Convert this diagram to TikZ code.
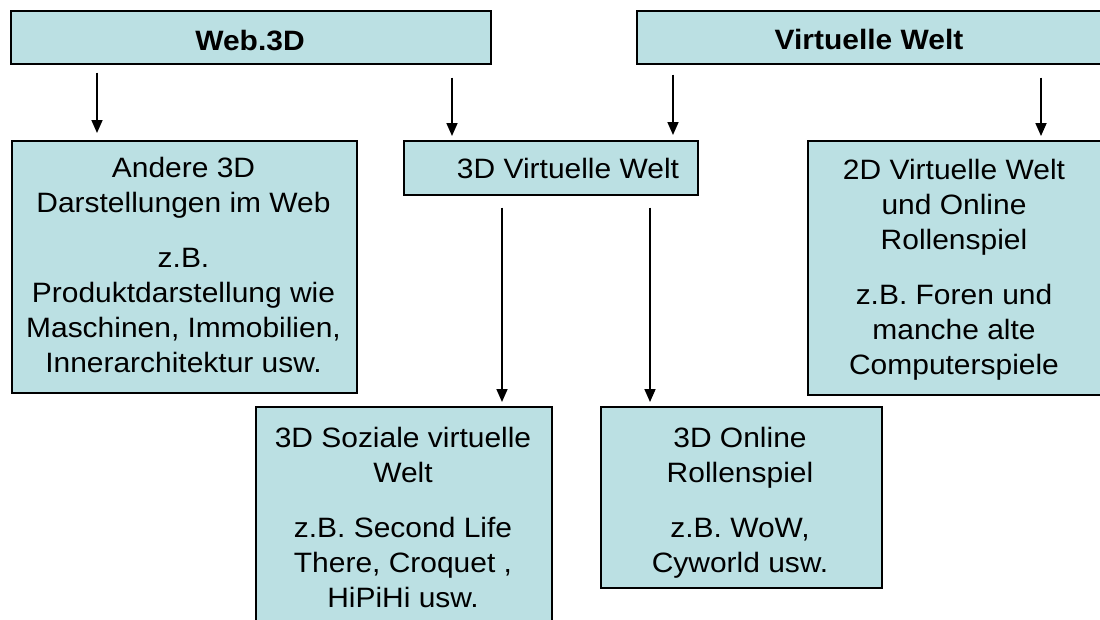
\documentclass[tikz,border=0pt]{standalone}
\usepackage{fontspec}
\setmainfont{Liberation Sans}[FakeStretch=1.07]
\usetikzlibrary{arrows.meta}
\definecolor{boxfill}{RGB}{187,224,227}
\tikzset{
  box/.style={draw=black, line width=1.6pt, fill=boxfill, anchor=north west, inner sep=0pt},
  txt/.style={align=center, font=\fontsize{28}{35}\selectfont, inner sep=0pt, anchor=base},
  ttl/.style={font=\bfseries\fontsize{28}{35}\selectfont, inner sep=0pt, anchor=base},
  arr/.style={line width=1.7pt, -{Triangle[length=13pt,width=11pt]}},
}
\begin{document}
\begin{tikzpicture}[x=1pt,y=-1pt]
\path[use as bounding box] (0,0) rectangle (1100,619);
\clip (0,0) rectangle (1100,619);
\fill[white] (0,0) rectangle (1100,619);

% boxes
\node[box, minimum width=480pt, minimum height=53pt] (web) at (10,10) {};
\node[box, minimum width=470pt, minimum height=53pt] (vw) at (636,10) {};
\node[box, minimum width=345pt, minimum height=252pt] (andere) at (11,140) {};
\node[box, minimum width=294pt, minimum height=54pt] (v3d) at (403,140) {};
\node[box, minimum width=300pt, minimum height=254pt] (twod) at (807,140) {};
\node[box, minimum width=296pt, minimum height=230pt] (sozial) at (255,406) {};
\node[box, minimum width=281pt, minimum height=181pt] (online) at (600,406) {};

% texts (multi-line nodes are placed by the baseline of their last line)
\node[ttl] (webT) at (250,50) {Web.3D};
\node[ttl] (vwT) at (869,49) {Virtuelle Welt};
\node[txt] (andereT) at (183.5,372) {Andere 3D\\Darstellungen im Web\\[20pt]z.B.\\Produktdarstellung wie\\Maschinen, Immobilien,\\Innerarchitektur usw.};
\node[txt] (v3dT) at (568,178) {3D Virtuelle Welt};
\node[txt] (twodT) at (954,374) {2D Virtuelle Welt\\und Online\\Rollenspiel\\[20pt]z.B. Foren und\\manche alte\\Computerspiele};
\node[txt] (sozialT) at (403,607) {3D Soziale virtuelle\\Welt\\[20pt]z.B. Second Life\\There, Croquet ,\\HiPiHi usw.};
\node[txt] (onlineT) at (740,572) {3D Online\\Rollenspiel\\[20pt]z.B. WoW,\\Cyworld usw.};

% connectors
\draw[arr] ([shift={(87,8)}]web.south west) -- ([shift={(86,-7)}]andere.north west);
\draw[arr] ([shift={(442,13)}]web.south west) -- ([shift={(49,-4)}]v3d.north west);
\draw[arr] ([shift={(37,10)}]vw.south west) -- ([shift={(270,-5)}]v3d.north west);
\draw[arr] ([shift={(405,13)}]vw.south west) -- ([shift={(234,-4)}]twod.north west);
\draw[arr] ([shift={(99,12)}]v3d.south west) -- ([shift={(247,-4)}]sozial.north west);
\draw[arr] ([shift={(247,12)}]v3d.south west) -- ([shift={(50,-4)}]online.north west);
\end{tikzpicture}
\end{document}
